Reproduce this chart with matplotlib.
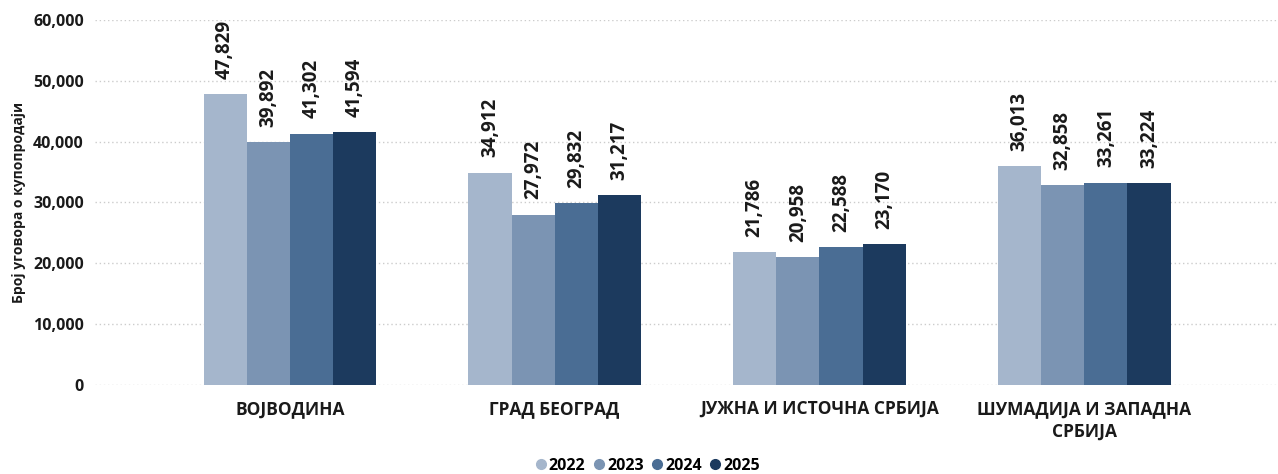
import matplotlib.pyplot as plt
import numpy as np

plt.rcParams['font.family'] = ['Open Sans', 'DejaVu Sans']

regions = ['ВОЈВОДИНА', 'ГРАД БЕОГРАД', 'ЈУЖНА И ИСТОЧНА СРБИЈА', 'ШУМАДИЈА И ЗАПАДНА\nСРБИЈА']
years = ['2022', '2023', '2024', '2025']
v2022 = [47829, 34912, 21786, 36013]
v2023 = [39892, 27972, 20958, 32858]
v2024 = [41302, 29832, 22588, 33261]
v2025 = [41594, 31217, 23170, 33224]
series = [v2022, v2023, v2024, v2025]
colors = ['#a5b6cc', '#7b94b3', '#4a6d94', '#1c3a5e']

fig = plt.figure(figsize=(12.78, 4.74), dpi=100)
ax = fig.add_axes([0.0743, 0.188, 0.925, 0.770])

x = np.arange(len(regions))
w = 0.163
for i, (vals, c, yr) in enumerate(zip(series, colors, years)):
    pos = x + (i - 1.5) * w
    ax.bar(pos, vals, w, color=c, label=yr, zorder=3)
    for p, v in zip(pos, vals):
        ax.annotate(f'{v:,}', (p, v), xytext=(0, 11), textcoords='offset points',
                    rotation=90, ha='center', va='bottom',
                    fontsize=13.5, fontweight='bold', color='#1a1a1a')

ax.set_ylim(0, 60000)
ax.set_xlim(-0.736, 3.728)
ax.set_yticks(np.arange(0, 60001, 10000))
ax.yaxis.set_major_formatter(plt.FuncFormatter(lambda v, _: f'{int(v):,}'))
ax.grid(axis='y', linestyle=(0, (1, 2)), color='#cccccc', linewidth=1, zorder=0)
ax.set_xticks(x)
ax.set_xticklabels(regions, fontsize=12.5, fontweight='bold', color='#1a1a1a',
                   linespacing=1.35)
for lbl in ax.get_yticklabels():
    lbl.set_fontweight('bold')
    lbl.set_fontsize(11.5)
    lbl.set_color('#1a1a1a')
ax.tick_params(length=0, pad=8)
ax.tick_params(axis='x', pad=11)
for s in ax.spines.values():
    s.set_visible(False)
ax.set_ylabel('Број уговора о купопродаји', fontsize=10, fontweight='bold',
              color='#1a1a1a', labelpad=5)

handles = [plt.Line2D([], [], marker='o', linestyle='', color=c, markersize=7) for c in colors]
fig.legend(handles, years, loc='lower center', bbox_to_anchor=(0.507, -0.03), ncol=4,
           frameon=False, handlelength=0.6, handletextpad=0.2, columnspacing=0.55,
           prop={'weight': 'bold', 'size': 11.5})

fig.savefig('out.png', dpi=100)
